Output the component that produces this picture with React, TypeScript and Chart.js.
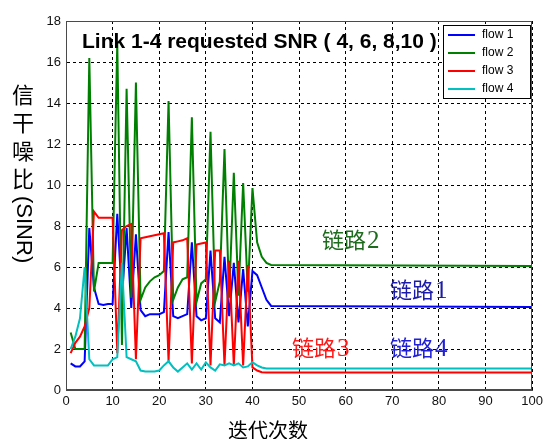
import React, { useEffect, useRef } from "react";
import { Chart, registerables } from "chart.js";

Chart.register(...registerables);

// iteration index (flat after 44 until 100)
const iterations = [
  1, 2, 3, 4, 5, 6, 7, 8, 9, 10,
  11, 12, 13, 14, 15, 16, 17, 18, 19, 20,
  21, 22, 23, 24, 25, 26, 27, 28, 29, 30,
  31, 32, 33, 34, 35, 36, 37, 38, 39, 40,
  41, 42, 43, 44, 100,
];

const flow1 = [
  1.3, 1.15, 1.15, 1.4, 7.9, 5.0, 4.2, 4.15, 4.2, 4.2,
  8.6, 4.5, 7.9, 4.0, 7.6, 3.9, 3.6, 3.7, 3.7, 3.7,
  3.8, 7.7, 3.6, 3.5, 3.6, 3.7, 7.2, 3.6, 3.4, 3.5,
  6.8, 3.5, 3.3, 6.5, 3.6, 6.2, 3.3, 5.9, 3.1, 5.8,
  5.6, 5.0, 4.4, 4.1, 4.05,
];

const flow2 = [
  2.8, 2.0, 2.0, 2.0, 16.2, 4.8, 6.2, 6.2, 6.2, 6.2,
  16.9, 2.2, 14.7, 4.5, 15.0, 4.4, 5.0, 5.3, 5.5, 5.6,
  5.8, 14.1, 4.4, 5.0, 5.4, 5.5, 13.3, 4.3, 5.2, 5.4,
  12.6, 4.3, 5.3, 11.75, 4.5, 10.6, 4.6, 10.1, 4.8, 9.85,
  7.2, 6.5, 6.2, 6.1, 6.05,
];

const flow3 = [
  1.8, 2.3, 2.6, 3.1, 4.0, 8.7, 8.4, 8.4, 8.4, 8.4,
  1.8, 7.8, 8.0, 8.1, 1.5, 7.4, 7.45, 7.5, 7.55, 7.6,
  7.65, 1.4, 7.2, 7.25, 7.3, 7.4, 1.3, 7.1, 7.15, 7.2,
  1.2, 6.8, 6.8, 1.2, 6.3, 1.2, 6.3, 1.2, 6.1, 1.1,
  0.95, 0.87, 0.85, 0.85, 0.85,
];

const flow4 = [
  2.0, 2.6, 3.5, 6.0, 1.5, 1.2, 1.2, 1.2, 1.2, 1.5,
  1.6, 6.2, 1.6, 1.5, 1.4, 0.95, 0.9, 0.9, 0.9, 0.95,
  1.2, 1.4, 1.1, 0.9, 1.1, 1.3, 1.0, 1.3, 1.0, 1.35,
  1.1, 0.95, 1.25, 1.2, 1.3, 1.2, 1.3, 1.1, 1.15, 1.35,
  1.2, 1.1, 1.05, 1.05, 1.05,
];

const seriesNames = ["flow 1", "flow 2", "flow 3", "flow 4"];
const seriesColors = ["#0000ff", "#008000", "#ff0000", "#00c0c0"];
const seriesValues = [flow1, flow2, flow3, flow4];

const titleText = "Link 1-4 requested SNR ( 4, 6, 8,10 )";
const xTitle = "迭代次数";
const yTitleChars = ["信", "干", "噪", "比"];
const yTitleLatin = "(SINR)";
const annotations = [
  { text: "链路", num: "2", color: "#1e6b1e", x: 322, y: 240 },
  { text: "链路", num: "1", color: "#1c1ca8", x: 390, y: 290 },
  { text: "链路", num: "3", color: "#ff1a1a", x: 292, y: 348 },
  { text: "链路", num: "4", color: "#2020d8", x: 390, y: 348 },
];

const SANS = '"Liberation Sans", Arial, sans-serif';
const CJK = '"Noto Sans CJK SC", sans-serif';
const SERIF = '"Liberation Serif", "Times New Roman", serif';

const decorPlugin = {
  id: "decor",
  afterDatasetsDraw(chart: any) {
    const ctx = chart.ctx as CanvasRenderingContext2D;
    const a = chart.chartArea;
    ctx.save();
    // axes box
    ctx.setLineDash([]);
    ctx.strokeStyle = "#4a4a4a";
    ctx.lineWidth = 1;
    ctx.strokeRect(Math.round(a.left) + 0.5, Math.round(a.top) + 0.5, Math.round(a.right - a.left) - 1, Math.round(a.bottom - a.top) - 1);

    // title inside plot
    ctx.fillStyle = "#000";
    ctx.font = `bold 21px ${SANS}`;
    ctx.textAlign = "left";
    ctx.textBaseline = "alphabetic";
    ctx.fillText(titleText, 82, 48);

    // annotations
    ctx.textBaseline = "alphabetic";
    for (const an of annotations) {
      ctx.fillStyle = an.color;
      ctx.font = `22px ${CJK}`;
      ctx.fillText(an.text, an.x, an.y + 8);
      const w = ctx.measureText(an.text).width;
      ctx.font = `25px ${SERIF}`;
      ctx.fillText(an.num, an.x + w + 1, an.y + 8);
    }

    // legend
    const lx = 443, ly = 25, lw = 87, lh = 73;
    ctx.fillStyle = "#fff";
    ctx.fillRect(lx, ly, lw, lh);
    ctx.strokeStyle = "#000";
    ctx.lineWidth = 1;
    ctx.strokeRect(lx + 0.5, ly + 0.5, lw, lh);
    ctx.font = `12px ${SANS}`;
    ctx.textBaseline = "middle";
    seriesNames.forEach((n, i) => {
      const y = 35 + i * 18;
      ctx.strokeStyle = seriesColors[i];
      ctx.lineWidth = 2;
      ctx.beginPath();
      ctx.moveTo(448, y);
      ctx.lineTo(475, y);
      ctx.stroke();
      ctx.fillStyle = "#000";
      ctx.fillText(n, 482, y);
    });

    // x title
    ctx.fillStyle = "#000";
    ctx.font = `20px ${CJK}`;
    ctx.textAlign = "center";
    ctx.textBaseline = "middle";
    ctx.fillText(xTitle, 268, 430);

    // y title (vertical)
    ctx.font = `22px ${CJK}`;
    yTitleChars.forEach((c, i) => {
      ctx.fillText(c, 23, 95 + i * 28);
    });
    ctx.save();
    ctx.translate(23, 196);
    ctx.rotate(Math.PI / 2);
    ctx.textAlign = "left";
    ctx.font = `22px ${SANS}`;
    ctx.fillText(yTitleLatin, 0, 0);
    ctx.restore();

    ctx.restore();
  },
};

export default function App() {
  const ref = useRef<HTMLCanvasElement | null>(null);
  useEffect(() => {
    if (!ref.current) return;
    const chart = new Chart(ref.current, {
      type: "line",
      data: {
        datasets: seriesValues.map((vals, i) => ({
          label: seriesNames[i],
          data: vals.map((v, k) => ({ x: iterations[k], y: v })),
          borderColor: seriesColors[i],
          backgroundColor: seriesColors[i],
          borderWidth: 2,
          pointRadius: 0,
          tension: 0,
          fill: false,
          order: 3 - i,
        })),
      },
      options: {
        animation: false,
        responsive: false,
        devicePixelRatio: 1,
        layout: { padding: { left: 0, top: 21, right: 10, bottom: 0 } },
        plugins: { legend: { display: false }, tooltip: { enabled: false } },
        scales: {
          x: {
            type: "linear",
            min: 0,
            max: 100,
            ticks: { stepSize: 10, color: "#111", font: { family: SANS, size: 13 }, padding: 4, maxRotation: 0 },
            grid: { color: "#000", lineWidth: 1, drawTicks: false },
            border: { display: true, color: "#4a4a4a", dash: [3, 3] },
            afterFit: (s: any) => { s.height = 49; },
          },
          y: {
            min: 0,
            max: 18,
            ticks: { stepSize: 2, color: "#111", font: { family: SANS, size: 13 }, padding: 5 },
            grid: { color: "#000", lineWidth: 1, drawTicks: false },
            border: { display: true, color: "#4a4a4a", dash: [3, 3] },
            afterFit: (s: any) => { s.width = 66; },
          },
        },
      },
      plugins: [decorPlugin],
    } as any);
    return () => chart.destroy();
  }, []);
  return (
    <div style={{ position: "fixed", left: 0, top: 0, width: 547, height: 439, background: "#fff" }}>
      <canvas ref={ref} width={547} height={439} style={{ width: 547, height: 439, display: "block" }} />
    </div>
  );
}
